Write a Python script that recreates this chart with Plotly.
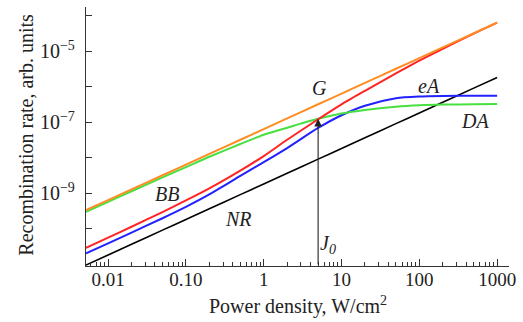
import math
import plotly.graph_objects as go

# ---- data ----
power_density = [0.0052, 0.01, 0.02, 0.05, 0.1, 0.2, 0.5, 1, 2, 5, 10, 20, 50, 100, 200, 500, 1000]

rate_G = [3.31e-10, 6.31e-10, 1.26e-9, 3.16e-9, 6.31e-9, 1.26e-8, 3.16e-8, 6.31e-8, 1.26e-7,
          3.16e-7, 6.31e-7, 1.26e-6, 3.16e-6, 6.31e-6, 1.26e-5, 3.16e-5, 6.31e-5]
rate_DA = [2.95e-10, 5.62e-10, 1.12e-9, 2.75e-9, 5.37e-9, 1.05e-8, 2.40e-8, 4.37e-8, 6.92e-8,
           1.23e-7, 1.74e-7, 2.19e-7, 2.69e-7, 2.95e-7, 3.09e-7, 3.16e-7, 3.24e-7]
rate_BB = [2.86e-11, 5.56e-11, 1.12e-10, 2.91e-10, 6.17e-10, 1.35e-9, 4.27e-9, 1.10e-8, 3.16e-8,
           1.20e-7, 3.16e-7, 7.59e-7, 2.34e-6, 5.37e-6, 1.15e-5, 3.09e-5, 6.31e-5]
rate_eA = [2.00e-11, 3.80e-11, 7.67e-11, 1.95e-10, 4.07e-10, 9.12e-10, 3.02e-9, 7.41e-9, 1.85e-8,
           6.80e-8, 1.55e-7, 2.88e-7, 4.68e-7, 5.25e-7, 5.43e-7, 5.50e-7, 5.50e-7]
rate_NR = [9.33e-12, 1.80e-11, 3.60e-11, 9.00e-11, 1.80e-10, 3.60e-10, 9.00e-10, 1.80e-9, 3.60e-9,
           9.00e-9, 1.80e-8, 3.60e-8, 9.00e-8, 1.80e-7, 3.60e-7, 9.00e-7, 1.80e-6]

J0 = 5
J0_rate = 1.23e-7

x_tick_vals = [0.01, 0.1, 1, 10, 100, 1000]
x_tick_text = ["0.01", "0.10", "1", "10", "100", "1000"]
y_tick_vals = [1e-9, 1e-7, 1e-5]
y_tick_text = ["10<sup>\u22129</sup>", "10<sup>\u22127</sup>", "10<sup>\u22125</sup>"]
y_minor_vals = [1e-10, 1e-8, 1e-6, 1e-4]

x_range = [0.0052, 1420]
y_range = [10 ** -11.056, 10 ** -3.76]

# ---- style ----
FONT = "Liberation Serif"
series = [
    (rate_NR, "#000000", 1.6),
    (rate_eA, "#2222ff", 2.0),
    (rate_DA, "#48e040", 2.0),
    (rate_BB, "#ff2424", 2.0),
    (rate_G, "#ff8c22", 2.0),
]

fig = go.Figure()
for ys, col, w in series:
    fig.add_trace(go.Scatter(x=power_density, y=ys, mode="lines",
                             line=dict(color=col, width=w, shape="spline", smoothing=0.7),
                             showlegend=False, hoverinfo="skip"))

minor_x = []
for d in range(-3, 4):
    for m in range(2, 10):
        v = m * 10 ** d
        if x_range[0] <= v <= x_range[1]:
            minor_x.append(v)

fig.update_xaxes(type="log", range=[math.log10(x_range[0]), math.log10(x_range[1])],
                 showline=True, linecolor="#333", linewidth=1.3, mirror=False,
                 showgrid=False, zeroline=False,
                 tickmode="array", tickvals=x_tick_vals, ticktext=x_tick_text,
                 ticks="inside", ticklen=7, tickwidth=1.2, tickcolor="#333",
                 minor=dict(tickmode="array", tickvals=minor_x, ticks="inside",
                            ticklen=4, tickwidth=1.1, tickcolor="#333", showgrid=False),
                 tickfont=dict(family=FONT, size=19, color="#222"),
                 ticklabelstandoff=-4)
fig.update_yaxes(type="log", range=[math.log10(y_range[0]), math.log10(y_range[1])],
                 showline=True, linecolor="#333", linewidth=1.3,
                 showgrid=False, zeroline=False,
                 tickmode="array", tickvals=y_tick_vals, ticktext=y_tick_text,
                 ticks="inside", ticklen=6, tickwidth=1.2, tickcolor="#333",
                 minor=dict(tickmode="array", tickvals=y_minor_vals, ticks="inside",
                            ticklen=6, tickwidth=1.2, tickcolor="#333", showgrid=False),
                 tickfont=dict(family=FONT, size=20, color="#222"),
                 ticklabelstandoff=6)

anns = []
L, R, T, B = 86, 514, 7, 266
def fx(p):
    return (p - L) / (R - L)
def fy(p):
    return (B - p) / (B - T)

def lbl(text, px, py, size=20, italic=True):
    anns.append(dict(text=f"<i>{text}</i>" if italic else text, x=fx(px), y=fy(py),
                     xref="paper", yref="paper", showarrow=False,
                     font=dict(family=FONT, size=size, color="#222"),
                     xanchor="center", yanchor="middle"))

lbl("G", 322, 88)
lbl("eA", 433, 86)
lbl("DA", 480, 121)
lbl("BB", 168, 194)
lbl("NR", 240, 219)
lbl("J<sub>0</sub>", 331, 244)

# axis titles
anns.append(dict(text="Power density, W/cm<sup>2</sup>", x=fx(301), y=fy(305),
                 xref="paper", yref="paper", showarrow=False,
                 font=dict(family=FONT, size=20, color="#222"),
                 xanchor="center", yanchor="middle"))
anns.append(dict(text="Recombination rate, arb. units", x=fx(25), y=fy(135),
                 xref="paper", yref="paper", showarrow=False, textangle=-90,
                 font=dict(family=FONT, size=20, color="#222"),
                 xanchor="center", yanchor="middle"))

# arrow at J0
anns.append(dict(x=math.log10(J0), y=math.log10(J0_rate), xref="x", yref="y",
                 ax=math.log10(J0), ay=math.log10(y_range[0]), axref="x", ayref="y",
                 text="", showarrow=True, arrowhead=2, arrowsize=1.4, arrowwidth=1.1,
                 arrowcolor="#222", standoff=0))

fig.update_layout(width=523, height=322, margin=dict(l=L, r=523 - R, t=T, b=322 - B),
                  paper_bgcolor="white", plot_bgcolor="white", annotations=anns,
                  showlegend=False)

fig.write_html("out.html", config={"displayModeBar": False},
               post_script="document.body.style.margin='0';document.body.style.padding='0';")
